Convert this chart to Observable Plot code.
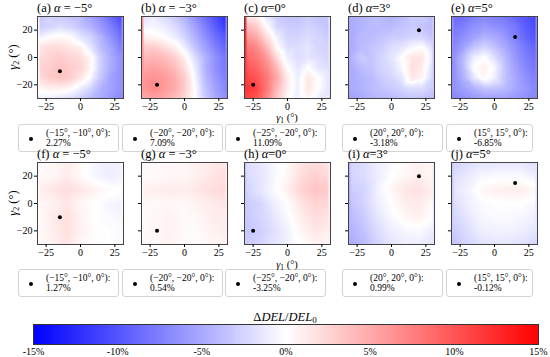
<!DOCTYPE html>
<html><head><meta charset="utf-8">
<script src="https://cdn.jsdelivr.net/npm/d3@7"></script>
<script src="https://cdn.jsdelivr.net/npm/@observablehq/plot@0.6"></script>
<style>
body{margin:0;background:#fff}
#root{position:relative;width:550px;height:357px;overflow:hidden;font-family:"Liberation Serif","Times New Roman",serif;color:#000}
#root svg, #root svg text{font-family:"Liberation Serif","Times New Roman",serif !important}
.abs{position:absolute;white-space:nowrap;line-height:1}
.title{font-size:12.5px}
.box{position:absolute;border:1px solid #d4d4d4;border-radius:3px;box-sizing:border-box;background:#fff}
.box .dot{position:absolute;width:4px;height:4px;border-radius:50%;background:#000}
.box .txt{position:absolute;font-size:9.5px;line-height:10px;white-space:nowrap}
sub{line-height:0;vertical-align:-0.25em}
svg{position:absolute;overflow:visible}
</style></head><body><div id="root"></div>
<script>
// ---- data ----
const topGamma = [-30, -22.5, -15, -7.5, 0, 7.5, 15, 22.5, 30];
const botGamma = [-30, -20, -10, 0, 10, 20, 30];
const panelTags = ["(a)", "(b)", "(c)", "(d)", "(e)", "(f)", "(g)", "(h)", "(i)", "(j)"];
const alphaText = ["= −5°", "= −3°", "=0°", "=3°", "=5°"];
const markerG1 = [-15, -20, -25, 20, 15];
const markerG2 = [-10, -20, -20, 20, 15];
const pointLabels = ["(−15°, −10°, 0°):", "(−20°, −20°, 0°):", "(−25°, −20°, 0°):", "(20°, 20°, 0°):", "(15°, 15°, 0°):"];
const topPct = ["2.27%", "7.09%", "11.09%", "-3.18%", "-6.85%"];
const botPct = ["1.27%", "0.54%", "-3.25%", "0.99%", "-0.12%"];
const cbTicks = [-15, -10, -5, 0, 5, 10, 15];

// rows from gamma2 = +30 (top) down to -30; columns gamma1 = -30 .. 30
const valsA = [
  [-3.5, -2.5, -3, -3.5, -4, -5.5, -7, -9, -10.5],
  [-3, -2.5, -2, -2.5, -3.5, -4.5, -6, -7.5, -9.5],
  [-1, 0, 0.5, 0, -1.5, -2.5, -4.5, -6.5, -8.5],
  [1.5, 2, 2, 1.5, 1, -1.5, -4, -5.5, -7.5],
  [2, 2.5, 3, 2.5, 2, 0.5, -3, -5, -6.5],
  [2.5, 3, 3.5, 3, 2.5, 0.5, -3, -5, -6.5],
  [2, 3, 3.5, 3, 1.5, -0.5, -3.5, -5.5, -6.5],
  [0.5, 1, 1, 0.5, -1, -2.5, -4.5, -5.5, -6.5],
  [-1, -1, -1.5, -2, -3, -4, -5, -6, -7]
];
const valsB = [
  [-1.5, -1, -2, -3, -4.5, -6.5, -8.5, -10.5, -12.5],
  [-1, -0.5, -1, -2, -3.5, -5.5, -7.5, -9.5, -11.5],
  [1, 0.5, 0, -1, -2.5, -4.5, -6.5, -8.5, -10],
  [3, 3, 2, 1, -1, -3.5, -5.5, -7.5, -9],
  [4, 4.5, 4, 3, 1, -2, -4.5, -6.5, -8],
  [5, 5.5, 5, 4, 2, -1, -4.5, -6.5, -8],
  [6, 6.5, 6, 5, 3, -0.5, -4, -6, -7.5],
  [6, 7, 6, 5, 3, 0, -3.5, -5.5, -7],
  [5, 5.5, 5, 4, 2.5, 0, -3, -5, -6.5]
];
const valsC = [
  [1, 1, -1.5, -3, -3.5, -3.5, -3, -3.5, -3.5],
  [4, 3, 0, -2.5, -3, -3, -2.5, -3, -3.5],
  [6, 5, 2, -1, -2.5, -2.5, -2, -2.5, -3],
  [8, 7, 4, 0, -2, -2, -1.5, -2.5, -2.5],
  [9, 8, 6, 2, -1, -2, -1.5, -2, -2.5],
  [10, 9, 7, 4, 0, -1.5, 0, -1.5, -2],
  [11, 10, 8, 5, 1, -1, 1.5, 0, -1.5],
  [12, 11, 8, 4, 1, -1, 1.5, 0, -1.5],
  [11, 10, 7, 3, 0.5, -1, 0.5, -1, -1.5]
];
const valsD = [
  [-5, -4.5, -4, -4, -4.5, -4, -3, -3, -4],
  [-5, -4.5, -4, -4, -4, -3.5, -3, -3.5, -4],
  [-5, -4, -4, -3.5, -3, -3, -2.5, -2.5, -3.5],
  [-5, -4, -3.5, -3, -2, -1.5, -0.5, 0, -2],
  [-4.5, -3, -3.5, -2.5, -1.5, 0, 1.5, 1.5, -1.5],
  [-5, -4, -3.5, -2.5, -2, -0.5, 2, 1, -2],
  [-5, -4.5, -4, -3, -2.5, -1.5, 1.5, 0.5, -2.5],
  [-5, -4.5, -4, -3.5, -3, -2.5, -2, -2, -3],
  [-5.5, -5, -4.5, -4, -4, -3.5, -3.5, -3.5, -4]
];
const valsE = [
  [-8.5, -8.5, -7.5, -7, -7.5, -8, -9, -10, -11],
  [-8, -7.5, -6.5, -6, -6.5, -7, -8, -9.5, -10.5],
  [-7.5, -6.5, -5.5, -4.5, -5, -6, -7.5, -9, -10],
  [-7, -5.5, -3.5, -2.5, -3.5, -5, -6.5, -8, -9],
  [-6.5, -4, -1, 0, -2, -4, -6, -7.5, -8.5],
  [-6.5, -4, 0, 1, -0.5, -3.5, -5.5, -7, -8],
  [-6.5, -4.5, -1.5, 0.5, -1, -3.5, -5, -6.5, -7.5],
  [-6.5, -5.5, -4.5, -3.5, -3.5, -4, -5, -6, -7],
  [-7, -6.5, -6, -5.5, -5.5, -5.5, -6, -6.5, -7]
];
const valsF = [
  [0.3, 0.5, 1, 0.3, -0.5, -1, -0.8],
  [0.3, 0.5, 1.2, 0.3, -0.5, -1, -0.8],
  [1, 1.5, 2, 1.5, 0.8, 0.3, 0],
  [0.3, 0.8, 1.5, 0.5, 0, -0.5, -0.8],
  [0.3, 1.2, 1.8, 0.8, 0, -0.3, -0.5],
  [0.3, 1, 1.8, 0.8, 0.2, 0, -0.3],
  [0.2, 0.8, 1.5, 0.5, 0, 0, -0.3]
];
const valsG = [
  [0.2, 0.3, 0.5, 0.5, 0.8, 1.2, 1.5],
  [0.2, 0.3, 0.5, 0.5, 1, 1.5, 2],
  [0.8, 1, 1.2, 1, 1.5, 2, 2.2],
  [0.3, 0.3, 0.5, 0.3, 0.8, 1.2, 1.5],
  [0.3, 0.5, 0.8, 0.3, 0.5, 1, 1.2],
  [0.3, 0.5, 0.8, 0.3, 0.3, 0.8, 1],
  [0.2, 0.5, 0.8, 0.2, 0.2, 0.5, 0.8]
];
const valsH = [
  [-2, -1.5, -0.5, 0.3, 1.5, 2, 1.5],
  [-2, -1.5, -0.5, 0.5, 2, 2.8, 2.2],
  [-2.5, -1.5, -0.3, 1, 2.5, 3.5, 3],
  [-3, -2.5, -1, 0, 1.5, 2.5, 2.2],
  [-3.2, -2.5, -1.5, -0.3, 1, 2, 1.5],
  [-3.3, -2.8, -1.8, -0.8, 0.5, 1.5, 1],
  [-3, -2.5, -1.5, -0.8, 0, 0.8, 0.5]
];
const valsI = [
  [-2.5, -2, -1, -0.3, 0.3, 0.8, 0.5],
  [-2.5, -2, -1, 0, 0.5, 1, 0.5],
  [-3, -2.5, -0.8, 0.5, 1.5, 1.8, 1],
  [-3.5, -2.5, -1, 0, 1, 1.2, 0.3],
  [-4, -3, -1.5, -0.3, 0.5, 0.8, 0],
  [-4.5, -3.5, -2, -1, -0.5, -0.3, -1],
  [-5, -4, -2.5, -1.5, -1, -1, -1.5]
];
const valsJ = [
  [-2.5, -2, -1.5, -1.5, -1.5, -1.5, -2],
  [-2, -1.2, -0.5, -0.3, -0.3, -0.3, -1],
  [-1.5, -0.8, 0.5, 0.8, 1, 1, 0.5],
  [-2, -1, -0.3, 0, 0, 0, -0.5],
  [-2.5, -1.5, -0.5, -0.3, -0.3, -0.5, -1],
  [-3, -2, -1, -0.8, -0.8, -1, -1.5],
  [-3.5, -2.5, -1.8, -1.5, -1.5, -1.8, -2.5]
];

// ---- build ----
const root = document.getElementById("root");
const serif = "'Liberation Serif', 'Times New Roman', serif";
const colorScale = {type: "linear", domain: [-15, 0, 15], range: ["#0000ff", "#ffffff", "#ff0000"], clamp: true};

function toPoints(gamma, rows) {
  const out = [];
  const n = gamma.length;
  rows.forEach((row, i) => row.forEach((v, j) => out.push({g1: gamma[j], g2: gamma[n - 1 - i], v})));
  return out;
}

const frameLefts = [37, 141, 244, 348, 451];
const frameTops = [16, 162];
const xLabelTops = [113, 260];
const FW = 86, FH = 82, ML = 30, MR = 4, MT = 2, MB = 16;

const allRows = [[valsA, valsB, valsC, valsD, valsE], [valsF, valsG, valsH, valsI, valsJ]];

function place(node, left, top) {
  node.style.left = left + "px";
  node.style.top = top + "px";
  root.appendChild(node);
}
function div(cls, html, left, top, extra) {
  const d = document.createElement("div");
  d.className = cls;
  d.innerHTML = html;
  d.style.left = left + "px";
  d.style.top = top + "px";
  if (extra) Object.assign(d.style, extra);
  root.appendChild(d);
  return d;
}

// legend boxes (drawn first so labels sit above them)
const boxX = [18, 122, 225, 342, 446];
const boxW = [101, 101, 101, 101, 87];
const boxTop = [124, 269];
for (let r = 0; r < 2; r++) {
  for (let c = 0; c < 5; c++) {
    const b = document.createElement("div");
    b.className = "box";
    Object.assign(b.style, {left: boxX[c] + "px", top: boxTop[r] + "px", width: boxW[c] + "px", height: "28px"});
    b.innerHTML = `<div class="dot" style="left:10px;top:12px"></div>` +
      `<div class="txt" style="left:27px;top:3px">${pointLabels[c]}</div>` +
      `<div class="txt" style="left:27px;top:13px">${(r === 0 ? topPct : botPct)[c]}</div>`;
    root.appendChild(b);
  }
}

for (let r = 0; r < 2; r++) {
  const gamma = r === 0 ? topGamma : botGamma;
  for (let c = 0; c < 5; c++) {
    const data = toPoints(gamma, allRows[r][c]);
    const p = Plot.plot({
      width: FW + ML + MR, height: FH + MT + MB,
      marginLeft: ML, marginRight: MR, marginTop: MT, marginBottom: MB,
      style: {fontFamily: serif, fontSize: "10px", background: "none", overflow: "visible"},
      x: {domain: [-31.3, 31.3]},
      y: {domain: [-30, 30]},
      color: colorScale,
      marks: [
        Plot.raster(data, {x: "g1", y: "g2", fill: "v", interpolate: "barycentric"}),
        Plot.frame({stroke: "#444"}),
        Plot.axisX({ticks: [-25, 0, 25], tickSize: 3, tickPadding: 1.5, label: null}),
        Plot.axisY({ticks: [-20, 0, 20], tickSize: 3, tickPadding: 2, label: null,
          tickFormat: c === 0 ? undefined : () => ""}),
        Plot.dot([{g1: markerG1[c], g2: markerG2[c]}], {x: "g1", y: "g2", r: 2, fill: "#000"})
      ]
    });
    place(p, frameLefts[c] - ML, frameTops[r] - MT);
    div("abs title", `${panelTags[r * 5 + c]} <i>α</i>${c < 2 ? " " : ""}${alphaText[c]}`, frameLefts[c], frameTops[r] - 14);
  }
  // axis labels
  div("abs", `<i>γ</i><sub style="font-size:8px">2</sub> (°)`, 13, frameTops[r] + FH / 2,
    {fontSize: "12.5px", transform: "translate(-50%,-50%) rotate(-90deg)"});
  div("abs", `<i>γ</i><sub style="font-size:7.5px">1</sub> (°)`, 287, xLabelTops[r],
    {fontSize: "10.5px", transform: "translateX(-50%)"});
}

// colorbar
div("abs", `Δ<i>DEL</i>/<i>DEL</i><sub style="font-size:9px">0</sub>`, 285, 311,
  {fontSize: "12.5px", transform: "translateX(-50%)"});
const cb = Plot.plot({
  width: 550, height: 34, marginLeft: 33, marginRight: 12, marginTop: 0, marginBottom: 14,
  style: {fontFamily: serif, fontSize: "10px", background: "none", overflow: "visible"},
  x: {domain: [-15, 15]},
  y: {domain: [0, 1], axis: null},
  color: colorScale,
  marks: [
    Plot.raster({fill: (x, y) => x, x1: -15, x2: 15, y1: 0, y2: 1}),
    Plot.frame({stroke: "#333"}),
    Plot.axisX({ticks: cbTicks, tickFormat: d => d + "%", tickSize: 0, tickPadding: 3, label: null})
  ]
});
place(cb, 0, 324);
</script></body></html>
